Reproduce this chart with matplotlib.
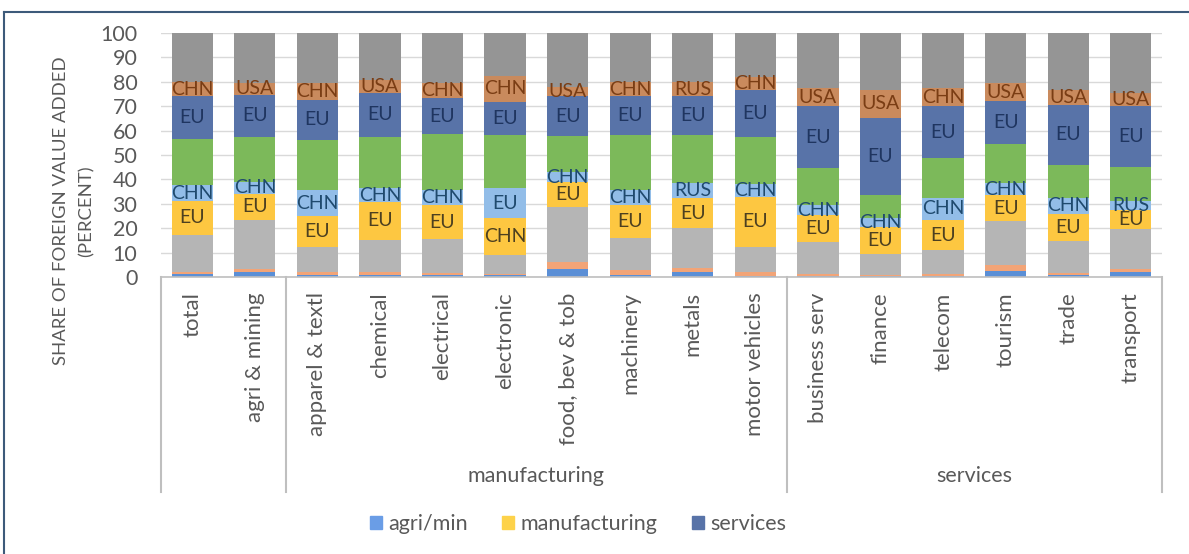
import numpy as np
import matplotlib.pyplot as plt
from matplotlib.patches import Patch
from matplotlib.lines import Line2D

plt.rcParams['font.family'] = ['Lato', 'DejaVu Sans']

categories = ['total', 'agri & mining', 'apparel & textl', 'chemical', 'electrical',
              'electronic', 'food, bev & tob', 'machinery', 'metals', 'motor vehicles',
              'business serv', 'finance', 'telecom', 'tourism', 'trade', 'transport']

# segment values (percent), bottom to top
agri_eu    = [1.4, 2.0, 1.0, 1.0, 1.0, 0.7, 3.4, 1.0, 2.0, 0.6, 0.6, 0.5, 0.6, 2.3, 1.0, 2.0]
agri_2nd   = [0.8, 1.4, 1.0, 1.0, 0.8, 0.4, 2.8, 1.7, 1.7, 1.4, 0.8, 0.5, 0.8, 2.5, 0.6, 1.4]
agri_rest  = [15.2, 19.9, 10.3, 13.2, 13.7, 8.1, 22.6, 13.1, 16.2, 10.3, 13.0, 8.6, 9.6, 18.1, 13.1, 16.2]
manuf_eu   = [13.7, 10.9, 12.7, 15.6, 14.0, 14.8, 10.0, 13.9, 12.6, 20.6, 10.9, 10.7, 12.3, 10.7, 11.3, 7.8]
manuf_2nd  = [6.6, 4.8, 10.6, 5.5, 6.1, 12.3, 4.2, 5.9, 5.9, 5.1, 4.2, 3.7, 9.2, 4.9, 6.2, 3.6]
manuf_rest = [18.7, 18.5, 20.6, 21.2, 22.9, 21.9, 14.8, 22.6, 19.8, 19.5, 15.0, 9.8, 16.1, 15.9, 13.7, 14.2]
serv_eu    = [17.6, 17.2, 16.4, 17.8, 14.8, 13.7, 16.2, 15.8, 15.8, 19.2, 25.4, 31.5, 21.4, 17.6, 24.6, 25.0]
serv_2nd   = [6.0, 4.8, 6.9, 5.5, 6.2, 10.3, 4.0, 6.0, 6.0, 5.3, 7.6, 11.4, 7.5, 7.5, 6.0, 5.3]
serv_rest  = [20.0, 20.5, 20.5, 19.2, 20.5, 17.8, 22.0, 20.0, 20.0, 18.0, 22.5, 23.3, 22.5, 20.5, 23.5, 24.5]

# data labels
manuf_eu_lab  = ['EU'] * 5 + ['CHN'] + ['EU'] * 10
manuf_2nd_lab = ['CHN'] * 5 + ['EU', 'CHN', 'CHN', 'RUS', 'CHN', 'CHN', 'CHN', 'CHN', 'CHN', 'CHN', 'RUS']
serv_eu_lab   = ['EU'] * 16
serv_2nd_lab  = ['CHN', 'USA', 'CHN', 'USA', 'CHN', 'CHN', 'USA', 'CHN', 'RUS', 'CHN',
                 'USA', 'USA', 'CHN', 'USA', 'USA', 'USA']

groups = [('manufacturing', 2, 9), ('services', 10, 15)]

series = [
    (agri_eu, '#5b8fd6', None, None),
    (agri_2nd, '#f2a477', None, None),
    (agri_rest, '#b5b5b5', None, None),
    (manuf_eu, '#fdc741', manuf_eu_lab, '#4d4020'),
    (manuf_2nd, '#92bde8', manuf_2nd_lab, '#1f4a6e'),
    (manuf_rest, '#7cb95a', None, None),
    (serv_eu, '#5873a8', serv_eu_lab, '#1f3560'),
    (serv_2nd, '#c98a5d', serv_2nd_lab, '#7a3d14'),
    (serv_rest, '#959595', None, None),
]

fig = plt.figure(figsize=(11.89, 5.54), dpi=100)
ax = fig.add_axes([161/1189, 0.5, (1162-161)/1189, (277-33)/554])

x = np.arange(len(categories))
bottom = np.zeros(len(categories))
for vals, col, labs, tcol in series:
    vals = np.array(vals)
    ax.bar(x, vals, 0.66, bottom=bottom, color=col, zorder=2)
    if labs is not None:
        for xi, b, v, lab in zip(x, bottom, vals, labs):
            ax.text(xi, b + v / 2, lab, ha='center', va='center', color=tcol,
                    fontsize=14, zorder=3)
    bottom += vals

ax.set_xlim(-0.5, len(categories) - 0.5)
ax.set_ylim(0, 100)
ax.set_yticks(range(0, 101, 10))
ax.yaxis.grid(True, color='#d9d9d9', lw=1, zorder=0)
ax.tick_params(axis='y', length=0, labelsize=15.5, labelcolor='#595959', pad=17)
for s in ['top', 'right', 'left']:
    ax.spines[s].set_visible(False)
ax.spines['bottom'].set_color('#bfbfbf')
ax.spines['bottom'].set_linewidth(1.2)

ax.set_xticks(x)
ax.set_xticklabels(categories, rotation=90, va='top', ha='center')
ax.tick_params(axis='x', length=0, labelsize=16, labelcolor='#595959', pad=11)

# multi-level category axis separators
trans = ax.get_xaxis_transform()
ybot = (277 - 492) / 244
for xs in [-0.5, 1.5, 9.5, 15.5]:
    ax.plot([xs, xs], [0, ybot], color='#bfbfbf', lw=1.5, transform=trans, clip_on=False)
for name, a, b in groups:
    ax.text((a + b) / 2, (277 - 476) / 244, name, transform=trans, ha='center', va='center',
            fontsize=15.5, color='#595959')

ax.set_ylabel('SHARE OF FOREIGN VALUE ADDED\n(PERCENT)', fontsize=13.3, color='#595959',
              linespacing=1.75)
ax.yaxis.set_label_coords(-0.066, 0.27)

handles = [Patch(color='#6a9de6', label='agri/min'),
           Patch(color='#fdd24a', label='manufacturing'),
           Patch(color='#5873a8', label='services')]
leg = fig.legend(handles=handles, loc='center', bbox_to_anchor=(0.486, 1 - 524/554), ncol=3,
                 frameon=False, fontsize=15.5, handlelength=0.55, handleheight=0.55,
                 handletextpad=0.3, columnspacing=1.6)
for t in leg.get_texts():
    t.set_color('#595959')

# outer frame
fig.add_artist(Line2D([4/1189, 4/1189], [0, 1 - 12/554], transform=fig.transFigure,
                      color='#3d5a7a', lw=1.5))
fig.add_artist(Line2D([4/1189, 1], [1 - 12/554, 1 - 12/554], transform=fig.transFigure,
                      color='#3d5a7a', lw=1.5))

fig.savefig('out.png', dpi=100)
